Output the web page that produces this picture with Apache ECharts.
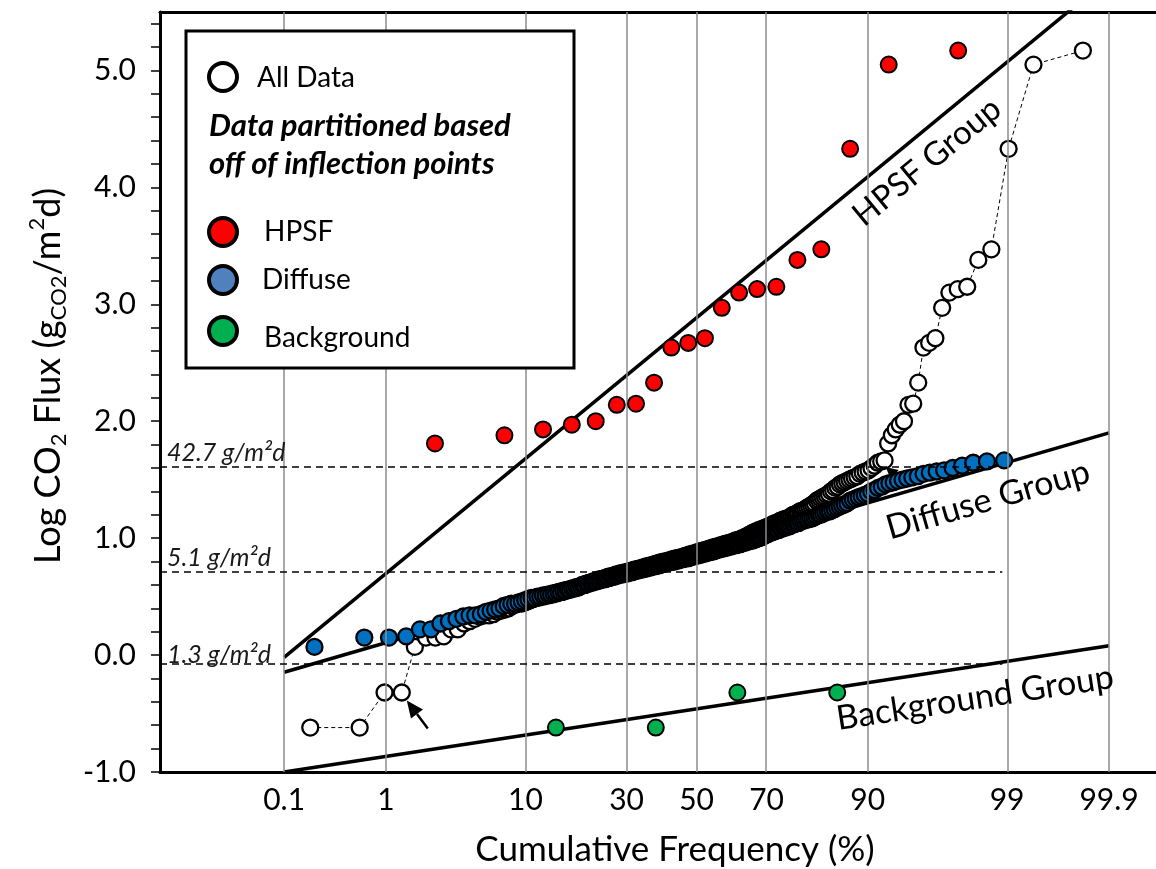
<!DOCTYPE html>
<html><head><meta charset="utf-8">
<script src="https://cdn.jsdelivr.net/npm/echarts@6/dist/echarts.min.js"></script>
<style>html,body{margin:0;padding:0;background:#fff}#c{width:1156px;height:869px}</style>
</head><body><div id="c"></div>
<script>
// ---------------- data ----------------
const tickPercents = [0.1, 1, 10, 30, 50, 70, 90, 99, 99.9];
const tickLabels = ['0.1', '1', '10', '30', '50', '70', '90', '99', '99.9'];

const hpsfPct = [2.5,7.5,12.5,17.5,22.5,27.5,32.5,37.5,42.5,47.5,52.5,57.5,62.5,67.5,72.5,77.5,82.5,87.5,92.5,97.5];
const hpsfFlux = [1.81,1.88,1.93,1.97,2.00,2.14,2.15,2.33,2.63,2.67,2.71,2.97,3.10,3.13,3.15,3.38,3.47,4.33,5.05,5.17];

const bgPct = [14.6, 38.0, 62.0, 85.4];
const bgFlux = [-0.62, -0.62, -0.32, -0.32];

const diffusePct = [
0.21,0.64,1.06,1.48,1.91,2.33,2.75,3.18,3.60,4.03,
4.45,4.87,5.30,5.72,6.14,6.57,6.99,7.42,7.84,8.26,
8.69,9.11,9.53,9.96,10.38,10.81,11.23,11.65,12.08,12.50,
12.92,13.35,13.77,14.19,14.62,15.04,15.47,15.89,16.31,16.74,
17.16,17.58,18.01,18.43,18.86,19.28,19.70,20.13,20.55,20.97,
21.40,21.82,22.25,22.67,23.09,23.52,23.94,24.36,24.79,25.21,
25.64,26.06,26.48,26.91,27.33,27.75,28.18,28.60,29.03,29.45,
29.87,30.30,30.72,31.14,31.57,31.99,32.42,32.84,33.26,33.69,
34.11,34.53,34.96,35.38,35.81,36.23,36.65,37.08,37.50,37.92,
38.35,38.77,39.19,39.62,40.04,40.47,40.89,41.31,41.74,42.16,
42.58,43.01,43.43,43.86,44.28,44.70,45.13,45.55,45.97,46.40,
46.82,47.25,47.67,48.09,48.52,48.94,49.36,49.79,50.21,50.64,
51.06,51.48,51.91,52.33,52.75,53.18,53.60,54.03,54.45,54.87,
55.30,55.72,56.14,56.57,56.99,57.42,57.84,58.26,58.69,59.11,
59.53,59.96,60.38,60.81,61.23,61.65,62.08,62.50,62.92,63.35,
63.77,64.19,64.62,65.04,65.47,65.89,66.31,66.74,67.16,67.58,
68.01,68.43,68.86,69.28,69.70,70.13,70.55,70.97,71.40,71.82,
72.25,72.67,73.09,73.52,73.94,74.36,74.79,75.21,75.64,76.06,
76.48,76.91,77.33,77.75,78.18,78.60,79.03,79.45,79.87,80.30,
80.72,81.14,81.57,81.99,82.42,82.84,83.26,83.69,84.11,84.53,
84.96,85.38,85.81,86.23,86.65,87.08,87.50,87.92,88.35,88.77,
89.19,89.62,90.04,90.47,90.89,91.31,91.74,92.16,92.58,93.01,
93.43,93.86,94.28,94.70,95.13,95.55,95.97,96.40,96.82,97.25,
97.67,98.09,98.52,98.94];

const diffuseFlux = [
0.07,0.15,0.15,0.16,0.22,0.22,0.27,0.29,0.31,0.33,
0.34,0.34,0.35,0.37,0.38,0.39,0.40,0.42,0.43,0.44,
0.44,0.45,0.46,0.47,0.48,0.49,0.49,0.50,0.50,0.51,
0.51,0.52,0.52,
0.53,0.53,0.54,0.54,0.55,0.55,0.56,
0.56,0.57,0.57,0.58,0.58,0.59,0.60,0.60,0.61,
0.61,0.62,0.62,0.63,0.63,0.64,0.64,0.65,0.65,
0.65,0.66,0.66,0.67,0.67,0.67,0.68,0.68,0.69,0.69,
0.69,0.70,0.70,0.70,0.71,0.71,0.71,0.72,0.72,0.72,0.73,
0.73,0.73,0.74,0.74,0.74,0.75,0.75,0.75,0.76,0.76,0.76,
0.77,0.77,0.77,0.78,0.78,0.78,0.79,0.79,0.79,0.80,0.80,0.80,
0.80,0.81,0.81,0.81,0.82,0.82,0.82,0.83,0.83,0.83,0.83,0.84,0.84,
0.84,0.85,0.85,0.85,0.86,0.86,0.86,0.87,0.87,0.87,0.88,0.88,
0.88,0.89,0.89,0.89,0.90,0.90,0.90,0.91,0.91,0.91,0.92,0.92,
0.92,0.93,0.93,0.93,0.94,0.94,0.94,0.95,0.95,0.95,0.96,
0.96,0.96,0.97,0.97,0.98,0.98,0.98,0.99,0.99,1.00,1.00,1.01,
1.01,1.02,1.03,1.03,1.04,1.05,
1.05,1.06,1.06,1.07,
1.07,1.08,1.08,1.09,1.09,1.10,1.10,
1.11,1.12,1.12,1.13,1.13,1.14,
1.15,1.15,1.16,1.16,1.17,1.17,1.18,
1.19,1.20,1.20,1.21,1.22,1.23,1.23,1.24,
1.25,1.26,1.27,1.28,1.29,1.30,1.32,1.33,
1.34,1.35,1.36,1.37,1.38,1.40,1.41,
1.43,1.44,1.46,1.47,1.48,
1.49,1.50,1.51,1.52,1.53,
1.55,1.56,1.57,1.58,1.60,1.62,1.645,1.656,1.665];

const allPct = [
0.19,0.58,0.97,1.36,1.74,2.13,2.52,2.91,3.29,3.68,
4.07,4.46,4.84,5.23,5.62,6.01,6.40,6.78,7.17,7.56,
7.95,8.33,8.72,9.11,9.50,9.88,10.27,10.66,11.05,11.43,
11.82,12.21,12.60,12.98,13.37,13.76,14.15,14.53,14.92,15.31,
15.70,16.09,16.47,16.86,17.25,17.64,18.02,18.41,18.80,19.19,
19.57,19.96,20.35,20.74,21.12,21.51,21.90,22.29,22.67,23.06,
23.45,23.84,24.22,24.61,25.00,25.39,25.78,26.16,26.55,26.94,
27.33,27.71,28.10,28.49,28.88,29.26,29.65,30.04,30.43,30.81,
31.20,31.59,31.98,32.36,32.75,33.14,33.53,33.91,34.30,34.69,
35.08,35.47,35.85,36.24,36.63,37.02,37.40,37.79,38.18,38.57,
38.95,39.34,39.73,40.12,40.50,40.89,41.28,41.67,42.05,42.44,
42.83,43.22,43.60,43.99,44.38,44.77,45.16,45.54,45.93,46.32,
46.71,47.09,47.48,47.87,48.26,48.64,49.03,49.42,49.81,
50.19,50.58,50.97,51.36,51.74,52.13,52.52,52.91,53.29,53.68,
54.07,54.46,54.84,55.23,55.62,56.01,56.40,56.78,57.17,57.56,
57.95,58.33,58.72,59.11,59.50,59.88,60.27,60.66,61.05,61.43,
61.82,62.21,62.60,62.98,63.37,63.76,64.15,64.53,64.92,65.31,
65.70,66.09,66.47,66.86,67.25,67.64,68.02,68.41,68.80,69.19,
69.57,69.96,70.35,70.74,71.12,71.51,71.90,72.29,72.67,73.06,
73.45,73.84,74.22,74.61,75.00,75.39,75.78,76.16,76.55,76.94,
77.33,77.71,78.10,78.49,78.88,79.26,79.65,80.04,80.43,80.81,
81.20,81.59,81.98,82.36,82.75,83.14,83.53,83.91,84.30,84.69,
85.08,85.47,85.85,86.24,86.63,87.02,87.40,87.79,88.18,88.57,
88.95,89.34,89.73,90.12,90.50,90.89,91.28,91.67,92.05,92.44,
92.83,93.22,93.60,93.99,94.38,94.77,95.16,95.54,95.93,96.32,
96.71,97.09,97.48,97.87,98.26,98.64,99.03,99.42,99.81];

// group trend lines, defined at the 0.1 % and 99.9 % positions
const groupLinePct = [0.1, 99.9];
const hpsfLineFlux = [-0.02, 5.79];
const diffuseLineFlux = [-0.147, 1.90];
const backgroundLineFlux = [-1.0, 0.08];

// threshold (inflection) levels
const thresholdFlux = [1.61, 0.71, -0.07];
const thresholdLabels = ['42.7 g/m²d', '5.1 g/m²d', '1.3 g/m²d'];
const thresholdEndPct = 98.9;

// ---------------- normal probability scale ----------------
function probit(p) {
  const a=[-3.969683028665376e+01,2.209460984245205e+02,-2.759285104469687e+02,1.383577518672690e+02,-3.066479806614716e+01,2.506628277459239e+00];
  const b=[-5.447609879822406e+01,1.615858368580409e+02,-1.556989798598866e+02,6.680131188771972e+01,-1.328068155288572e+01];
  const c=[-7.784894002430293e-03,-3.223964580411365e-01,-2.400758277161838e+00,-2.549671010229528e+00,4.374664141464968e+00,2.938163982698783e+00];
  const d=[7.784695709041462e-03,3.224671290700398e-01,2.445134137142996e+00,3.754408661907416e+00];
  const pl=0.02425, ph=1-pl;
  let q, r;
  if (p < pl) { q=Math.sqrt(-2*Math.log(p)); return (((((c[0]*q+c[1])*q+c[2])*q+c[3])*q+c[4])*q+c[5])/((((d[0]*q+d[1])*q+d[2])*q+d[3])*q+1); }
  if (p > ph) { q=Math.sqrt(-2*Math.log(1-p)); return -(((((c[0]*q+c[1])*q+c[2])*q+c[3])*q+c[4])*q+c[5])/((((d[0]*q+d[1])*q+d[2])*q+d[3])*q+1); }
  q=p-0.5; r=q*q;
  return (((((a[0]*r+a[1])*r+a[2])*r+a[3])*r+a[4])*r+a[5])*q/(((((b[0]*r+b[1])*r+b[2])*r+b[3])*r+b[4])*r+1);
}
const pz = pct => probit(pct / 100);
const X_MIN = -4.02, X_MAX = 3.442;

const tickZ = tickPercents.map(pz);
const pairs = (pcts, vals) => vals.map((v, i) => [pz(pcts[i]), v]).filter(d => isFinite(d[0]));

const allFlux = bgFlux.concat(diffuseFlux, hpsfFlux);
const allPts = pairs(allPct, allFlux);
const diffusePts = pairs(diffusePct, diffuseFlux);
const hpsfPts = pairs(hpsfPct, hpsfFlux);
const bgPts = pairs(bgPct, bgFlux);

const FONT = 'Lato, "Open Sans", sans-serif';
const chart = echarts.init(document.getElementById('c'), null, {renderer: 'canvas'});

function groupLine(vals) {
  return {
    type: 'line', z: 2, silent: true, showSymbol: false, clip: true,
    data: pairs(groupLinePct, vals),
    lineStyle: {color: '#000', width: 3.5}
  };
}
const MS = 16, MB = 2.3;

const option = {
  animation: false,
  textStyle: {fontFamily: FONT},
  grid: {left: 160, right: 0, top: 12, bottom: 97, containLabel: false, outerBoundsMode: 'none'},
  xAxis: [{
    type: 'value', min: X_MIN, max: X_MAX,
    axisLine: {show: true, onZero: false, lineStyle: {color: '#000', width: 3}},
    axisTick: {show: false},
    splitLine: {show: false},
    axisLabel: {
      customValues: tickZ, fontSize: 30, fontFamily: FONT, color: '#000', margin: 13,
      showMinLabel: true, showMaxLabel: true,
      formatter: v => { const i = tickZ.findIndex(t => Math.abs(t - v) < 1e-6); return i >= 0 ? tickLabels[i] : ''; }
    }
  }, {
    type: 'value', position: 'top', min: X_MIN, max: X_MAX,
    axisLine: {show: true, onZero: false, lineStyle: {color: '#000', width: 3}},
    axisTick: {show: false}, axisLabel: {show: false}, splitLine: {show: false}
  }],
  yAxis: {
    type: 'value', min: -1, max: 5.5, interval: 0.2,
    axisLine: {show: true, onZero: false, lineStyle: {color: '#000', width: 3}},
    axisTick: {show: true, length: 9, lineStyle: {color: '#000', width: 1.5}},
    splitLine: {show: false},
    axisLabel: {
      fontSize: 30, fontFamily: FONT, color: '#000', margin: 24, showMaxLabel: false,
      formatter: v => Math.abs(v - Math.round(v)) < 1e-6 ? (Math.round(v) + 0).toFixed(1) : ''
    }
  },
  series: [
    { // vertical probability grid lines
      type: 'line', data: [], z: 1, silent: true,
      markLine: {
        silent: true, symbol: 'none', animation: false, label: {show: false},
        lineStyle: {color: '#8c8c8c', width: 1.5, type: 'solid'},
        data: tickZ.map(z => ({xAxis: z}))
      }
    },
    { // dashed threshold lines
      type: 'line', data: [], z: 1, silent: true,
      markLine: {
        silent: true, symbol: 'none', animation: false, label: {show: false},
        lineStyle: {color: '#000', width: 1.5, type: [7, 5]},
        data: thresholdFlux.map(v => [{coord: [X_MIN, v]}, {coord: [pz(thresholdEndPct), v]}])
      }
    },
    groupLine(hpsfLineFlux),
    groupLine(diffuseLineFlux),
    groupLine(backgroundLineFlux),
    {
      name: 'All Data', type: 'line', z: 3, data: allPts,
      symbol: 'circle', symbolSize: MS, showSymbol: true, showAllSymbol: true,
      itemStyle: {color: '#fff', borderColor: '#000', borderWidth: MB},
      lineStyle: {color: '#000', width: 1, type: [4, 3]}
    },
    {
      name: 'Diffuse', type: 'scatter', z: 4, data: diffusePts, symbolSize: MS,
      itemStyle: {color: '#0070C0', borderColor: '#000', borderWidth: MB, opacity: 1}
    },
    {
      name: 'HPSF', type: 'scatter', z: 5, data: hpsfPts, symbolSize: MS,
      itemStyle: {color: '#FF0000', borderColor: '#000', borderWidth: 2, opacity: 1}
    },
    {
      name: 'Background', type: 'scatter', z: 5, data: bgPts, symbolSize: MS,
      itemStyle: {color: '#00B050', borderColor: '#000', borderWidth: 2, opacity: 1}
    }
  ]
};
chart.setOption(option);

// ---------------- annotations ----------------
const toPx = (z, v) => chart.convertToPixel({gridIndex: 0}, [z, v]);
function arrow(tail, tip, z, hl, hw) {
  const dx = tip[0] - tail[0], dy = tip[1] - tail[1], L = Math.hypot(dx, dy);
  const ux = dx / L, uy = dy / L;
  const bx = tip[0] - ux * hl, by = tip[1] - uy * hl;
  return [
    {type: 'line', z, shape: {x1: tail[0], y1: tail[1], x2: bx, y2: by}, style: {stroke: '#000', lineWidth: 2.5}},
    {type: 'polygon', z, shape: {points: [tip, [bx - uy * hw, by + ux * hw], [bx + uy * hw, by - ux * hw]]}, style: {fill: '#000'}}
  ];
}
const txt = (x, y, text, extra) => Object.assign({
  type: 'text', x, y, z: 101,
  style: Object.assign({text, fontSize: 28, fontFamily: FONT, fill: '#000', align: 'left', verticalAlign: 'middle'}, extra || {})
});

const g = [];
// legend box
g.push({type: 'rect', z: 100, shape: {x: 186, y: 31, width: 388, height: 337}, style: {fill: '#fff', stroke: '#000', lineWidth: 3}});
[['#fff', 77], ['#FF0000', 232], ['#4F81BD', 280], ['#00B050', 331]].forEach(([col, cy]) => {
  g.push({type: 'circle', z: 101, shape: {cx: 223, cy, r: 14}, style: {fill: col, stroke: '#000', lineWidth: 4}});
});
g.push(txt(257, 78, 'All Data'));
g.push(txt(209, 126, 'Data partitioned based', {fontSize: 31, fontWeight: 'bold', fontStyle: 'italic'}));
g.push(txt(209, 164, 'off of inflection points', {fontSize: 31, fontWeight: 'bold', fontStyle: 'italic'}));
g.push(txt(264, 232, 'HPSF'));
g.push(txt(262, 280, 'Diffuse'));
g.push(txt(264, 338, 'Background'));

// threshold labels
const thrOffsets = [-14, -14, -8];
thresholdFlux.forEach((v, i) => {
  const p = toPx(X_MIN, v);
  g.push(txt(p[0] + 7, p[1] + thrOffsets[i], thresholdLabels[i], {fontSize: 25, fontStyle: 'italic', fill: '#1a1a1a'}));
});

// group labels
g.push(Object.assign(txt(927, 162, 'HPSF Group', {fontSize: 33, align: 'center'}), {rotation: 0.69}));
g.push(Object.assign(txt(988, 500, 'Diffuse Group', {fontSize: 34, align: 'center'}), {rotation: 0.28}));
g.push(Object.assign(txt(975, 698, 'Background Group', {fontSize: 34, align: 'center'}), {rotation: 0.152}));

// axis titles
g.push(txt(675, 850, 'Cumulative Frequency (%)', {fontSize: 35, align: 'center'}));
g.push({
  type: 'text', x: 48, y: 376, rotation: Math.PI / 2, z: 101,
  style: {
    text: '{n|Log CO}{s|2}{n| Flux (g}{s|CO2}{n|/m}{p|2}{n|d)}',
    align: 'center', verticalAlign: 'middle', fill: '#000',
    rich: {
      n: {fontSize: 36, fontFamily: FONT, lineHeight: 44, verticalAlign: 'middle'},
      s: {fontSize: 22, fontFamily: FONT, lineHeight: 22, verticalAlign: 'bottom'},
      p: {fontSize: 22, fontFamily: FONT, lineHeight: 22, verticalAlign: 'top'}
    }
  }
});

// arrows pointing at the inflection points of the All Data curve
const a1 = toPx(pz(allPct[3]), allFlux[3]);
g.push(...arrow([a1[0] + 26, a1[1] + 36], [a1[0] + 5, a1[1] + 8], 10, 17, 7.5));
const a2 = toPx(pz(allPct[237]), allFlux[237]);
g.push(...arrow([a2[0] + 22, a2[1] + 24], [a2[0] + 1, a2[1] + 6.5], 3.5, 12, 6));

chart.setOption({graphic: {elements: g}});
</script></body></html>
